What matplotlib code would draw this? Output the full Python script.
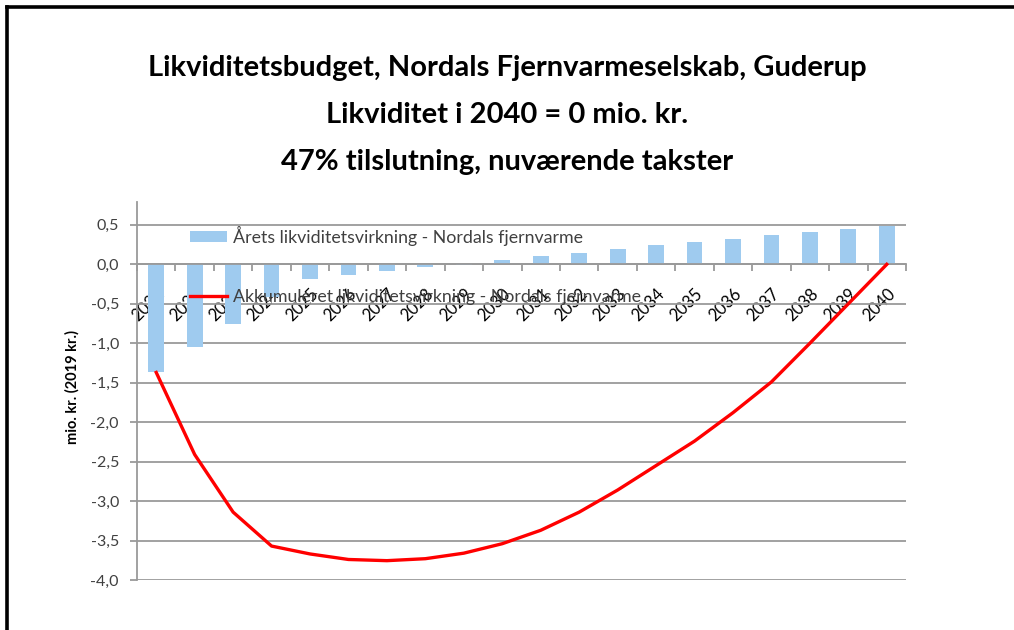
import matplotlib
matplotlib.use("Agg")
import matplotlib.pyplot as plt
from matplotlib.lines import Line2D
import numpy as np

plt.rcParams["font.family"] = ["Lato", "DejaVu Sans"]

years = [str(y) for y in range(2021, 2041)]
aarets = [-1.37, -1.05, -0.76, -0.41, -0.18, -0.135, -0.085, -0.04, -0.01, 0.05,
          0.10, 0.15, 0.19, 0.24, 0.28, 0.325, 0.37, 0.41, 0.45, 0.49]
akkumuleret = [-1.37, -2.41, -3.14, -3.57, -3.67, -3.74, -3.755, -3.73, -3.66, -3.54,
               -3.37, -3.14, -2.86, -2.55, -2.24, -1.88, -1.49, -1.0, -0.5, 0.0]
yticks = [0.5, 0.0, -0.5, -1.0, -1.5, -2.0, -2.5, -3.0, -3.5, -4.0]

title_lines = ["Likviditetsbudget, Nordals Fjernvarmeselskab, Guderup",
               "Likviditet i 2040 = 0 mio. kr.",
               "47% tilslutning, nuværende takster"]
bar_label = "Årets likviditetsvirkning - Nordals fjernvarme"
line_label = "Akkumuleret likviditetsvirkning - Nordals fjernvarme"

W, H = 1014, 630
fig = plt.figure(figsize=(W / 100, H / 100), dpi=100)
ax = fig.add_axes([137 / W, 1 - 580 / H, (906 - 137) / W, (580 - 202) / H])

x = np.arange(len(years))
grid_c = "#9a9a9a"

bars = ax.bar(x, aarets, width=0.41, color="#9fcbef", label=bar_label, zorder=2)
line, = ax.plot(x, akkumuleret, color="#ff0000", lw=2.4, label=line_label,
                zorder=3, solid_joinstyle="round")

ax.set_xlim(-0.5, len(years) - 0.5)
ax.set_ylim(-4.0, 0.79)
ax.set_yticks(yticks)
ax.set_yticklabels([f"{v:.1f}".replace(".", ",") for v in yticks],
                   fontsize=11.5, color="#404040")
ax.yaxis.grid(True, color=grid_c, lw=1.3, zorder=0)
ax.set_axisbelow(True)

for s in ["top", "right"]:
    ax.spines[s].set_visible(False)
ax.spines["left"].set_color(grid_c)
ax.spines["left"].set_linewidth(1.3)
ax.spines["bottom"].set_position(("data", 0))
ax.spines["bottom"].set_color(grid_c)
ax.spines["bottom"].set_linewidth(1.3)
ax.tick_params(axis="y", length=5, width=1.3, color=grid_c, pad=8)

# category boundary ticks, labels at centres
ax.set_xticks(np.arange(-0.5, len(years)), minor=False)
ax.set_xticklabels([])
ax.tick_params(axis="x", which="major", length=5, width=1.3, color=grid_c,
               direction="out")
ax.set_xticks(x, minor=True)
ax.set_xticklabels(years, minor=True, rotation=45, ha="right", va="top",
                   rotation_mode="anchor", fontsize=12, color="black")
ax.tick_params(axis="x", which="minor", length=0, pad=15)
for lab in ax.get_xticklabels(minor=True):
    lab.set_zorder(5)

ax.set_ylabel("mio. kr. (2019 kr.)", fontsize=10.5, fontweight="bold")
ax.yaxis.set_label_coords(80 / W, 1 - 387 / H, transform=fig.transFigure)

leg = ax.legend([bars, line], [bar_label, line_label], loc="upper left",
                bbox_to_anchor=(190 / W, 1 - 226 / H),
                bbox_transform=fig.transFigure, frameon=False, fontsize=12.8,
                borderpad=0, borderaxespad=0, handlelength=2.1,
                handletextpad=0.3, labelspacing=2.4, handleheight=0.6)
for t in leg.get_texts():
    t.set_color("#404040")

for yy, txt in zip([68, 115, 162], title_lines):
    fig.text(507 / W, 1 - yy / H, txt, ha="center", va="center",
             fontsize=21, fontweight="bold")

# black frame: only top and left edges are inside the picture
fig.add_artist(Line2D([6.5 / W, 1.0], [1 - 6.5 / H, 1 - 6.5 / H],
                      transform=fig.transFigure, color="black", lw=2.6))
fig.add_artist(Line2D([6.5 / W, 6.5 / W], [0.0, 1 - 6.5 / H],
                      transform=fig.transFigure, color="black", lw=2.6))

fig.savefig("out.png", dpi=100)
